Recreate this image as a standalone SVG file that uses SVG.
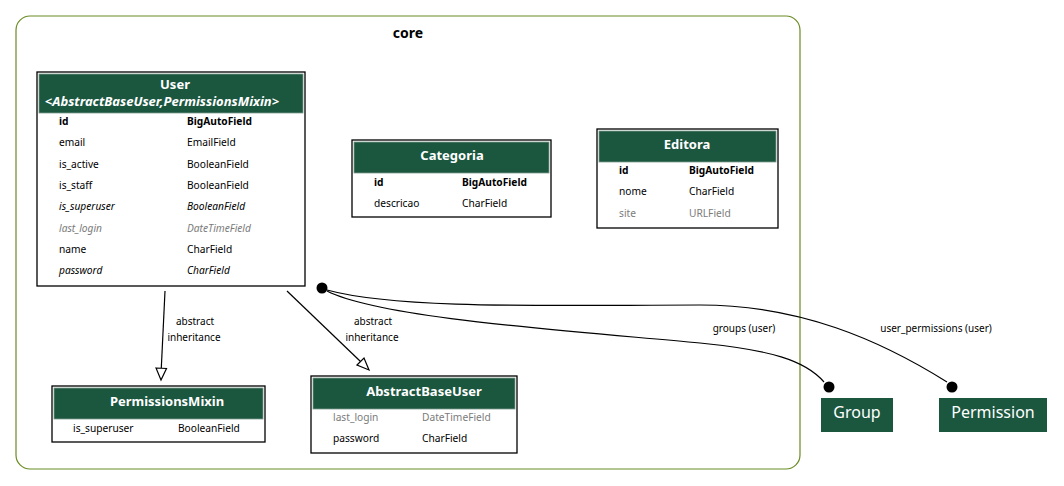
<svg xmlns="http://www.w3.org/2000/svg" width="1064" height="486" viewBox="0 0 1064 486">
  <defs>
    <style>
      text { font-family: "Noto Sans", "Open Sans", sans-serif; fill: #000; }
      .cluster { fill: none; stroke: #698b22; stroke-width: 1.2; }
      .cluster-label { font-size: 14px; font-weight: bold; text-anchor: middle; }
      .box { fill: #fff; stroke: #000; stroke-width: 1.3; }
      .head { fill: #1b563f; stroke: #7e9c8e; stroke-width: 0.8; }
      .title { font-size: 13px; font-weight: bold; fill: #fff; text-anchor: middle; }
      .title-i { font-style: italic; }
      .f { font-size: 10.2px; }
      .b { font-weight: bold; }
      .i { font-style: italic; }
      .g { fill: #7b7b7b; }
      .ext { fill: #1b563f; }
      .ext-label { font-size: 16px; fill: #fff; text-anchor: middle; }
      .edge { fill: none; stroke: #000; stroke-width: 1.2; }
      .hollow { fill: #fff; stroke: #000; stroke-width: 1.2; }
      .dot { fill: #000; }
      .elabel { font-size: 10px; text-anchor: middle; }
    </style>
  </defs>

  <rect width="1064" height="486" fill="#fff"/>

  <!-- app cluster -->
  <g id="cluster_core">
    <rect class="cluster" x="16" y="16" width="784" height="453" rx="14" ry="14"/>
    <text class="cluster-label" x="408" y="38">core</text>
  </g>

  <!-- models -->
  <g id="node_User">
    <rect class="box" x="37" y="72" width="268" height="214"/>
    <rect class="head" x="39" y="74" width="264" height="39"/>
    <text class="title" x="175" y="89">User</text>
    <text class="title title-i" x="162" y="106">&lt;AbstractBaseUser,PermissionsMixin&gt;</text>
    <text class="f b" x="59" y="124.5">id</text><text class="f b" x="187" y="124.5">BigAutoField</text>
    <text class="f" x="59" y="145.5">email</text><text class="f" x="187" y="145.5">EmailField</text>
    <text class="f" x="59" y="167.5">is_active</text><text class="f" x="187" y="167.5">BooleanField</text>
    <text class="f" x="59" y="188.5">is_staff</text><text class="f" x="187" y="188.5">BooleanField</text>
    <text class="f i" x="59" y="209.5">is_superuser</text><text class="f i" x="187" y="209.5">BooleanField</text>
    <text class="f i g" x="59" y="231.5">last_login</text><text class="f i g" x="187" y="231.5">DateTimeField</text>
    <text class="f" x="59" y="252.5">name</text><text class="f" x="187" y="252.5">CharField</text>
    <text class="f i" x="59" y="273.5">password</text><text class="f i" x="187" y="273.5">CharField</text>
  </g>

  <g id="node_Categoria">
    <rect class="box" x="352" y="140" width="199" height="77"/>
    <rect class="head" x="354" y="142" width="195" height="31"/>
    <text class="title" x="452" y="159.5">Categoria</text>
    <text class="f b" x="374" y="185.5">id</text><text class="f b" x="462" y="185.5">BigAutoField</text>
    <text class="f" x="374" y="206.5">descricao</text><text class="f" x="462" y="206.5">CharField</text>
  </g>

  <g id="node_Editora">
    <rect class="box" x="597" y="129" width="181" height="99"/>
    <rect class="head" x="599" y="131" width="177" height="31"/>
    <text class="title" x="687" y="148.5">Editora</text>
    <text class="f b" x="619" y="173.5">id</text><text class="f b" x="689" y="173.5">BigAutoField</text>
    <text class="f" x="619" y="194.5">nome</text><text class="f" x="689" y="194.5">CharField</text>
    <text class="f g" x="619" y="216.5">site</text><text class="f g" x="689" y="216.5">URLField</text>
  </g>

  <g id="node_PermissionsMixin">
    <rect class="box" x="52" y="386" width="213" height="56"/>
    <rect class="head" x="54" y="388" width="209" height="31"/>
    <text class="title" x="167" y="405.5">PermissionsMixin</text>
    <text class="f" x="73" y="431.5">is_superuser</text><text class="f" x="178" y="431.5">BooleanField</text>
  </g>

  <g id="node_AbstractBaseUser">
    <rect class="box" x="311" y="376" width="206" height="77"/>
    <rect class="head" x="313" y="378" width="202" height="31"/>
    <text class="title" x="424" y="395.5">AbstractBaseUser</text>
    <text class="f g" x="333" y="420.5">last_login</text><text class="f g" x="422" y="420.5">DateTimeField</text>
    <text class="f" x="333" y="441.5">password</text><text class="f" x="422" y="441.5">CharField</text>
  </g>

  <!-- models from other apps -->
  <g id="node_Group">
    <rect class="ext" x="821" y="398" width="72" height="34"/>
    <text class="ext-label" x="857" y="417.5">Group</text>
  </g>

  <g id="node_Permission">
    <rect class="ext" x="939" y="398" width="108" height="34"/>
    <text class="ext-label" x="993" y="417.5">Permission</text>
  </g>

  <!-- relations -->
  <g id="edges">
    <!-- User -> PermissionsMixin -->
    <path class="edge" d="M165,291 L161.3,368"/>
    <polygon class="hollow" points="156,368 166.5,368.5 161,380"/>
    <text class="elabel" x="195" y="325">abstract</text>
    <text class="elabel" x="194" y="341">inheritance</text>

    <!-- User -> AbstractBaseUser -->
    <path class="edge" d="M287,291 L360.5,361.5"/>
    <polygon class="hollow" points="357,365 364,358 369,370"/>
    <text class="elabel" x="373" y="325">abstract</text>
    <text class="elabel" x="372" y="341">inheritance</text>

    <!-- User.groups -> Group -->
    <circle class="dot" cx="322" cy="288" r="5.5"/>
    <path class="edge" d="M327,291 C380,318 560,330 700,343 C770,350 805,360 824,382"/>
    <circle class="dot" cx="829" cy="387" r="5.5"/>
    <text class="elabel" x="744" y="332">groups (user)</text>

    <!-- User.user_permissions -> Permission -->
    <path class="edge" d="M327,290 C400,310 560,305 700,305 C800,305 880,340 947,382"/>
    <circle class="dot" cx="952" cy="387" r="5.5"/>
    <text class="elabel" x="936" y="332">user_permissions (user)</text>
  </g>
</svg>
